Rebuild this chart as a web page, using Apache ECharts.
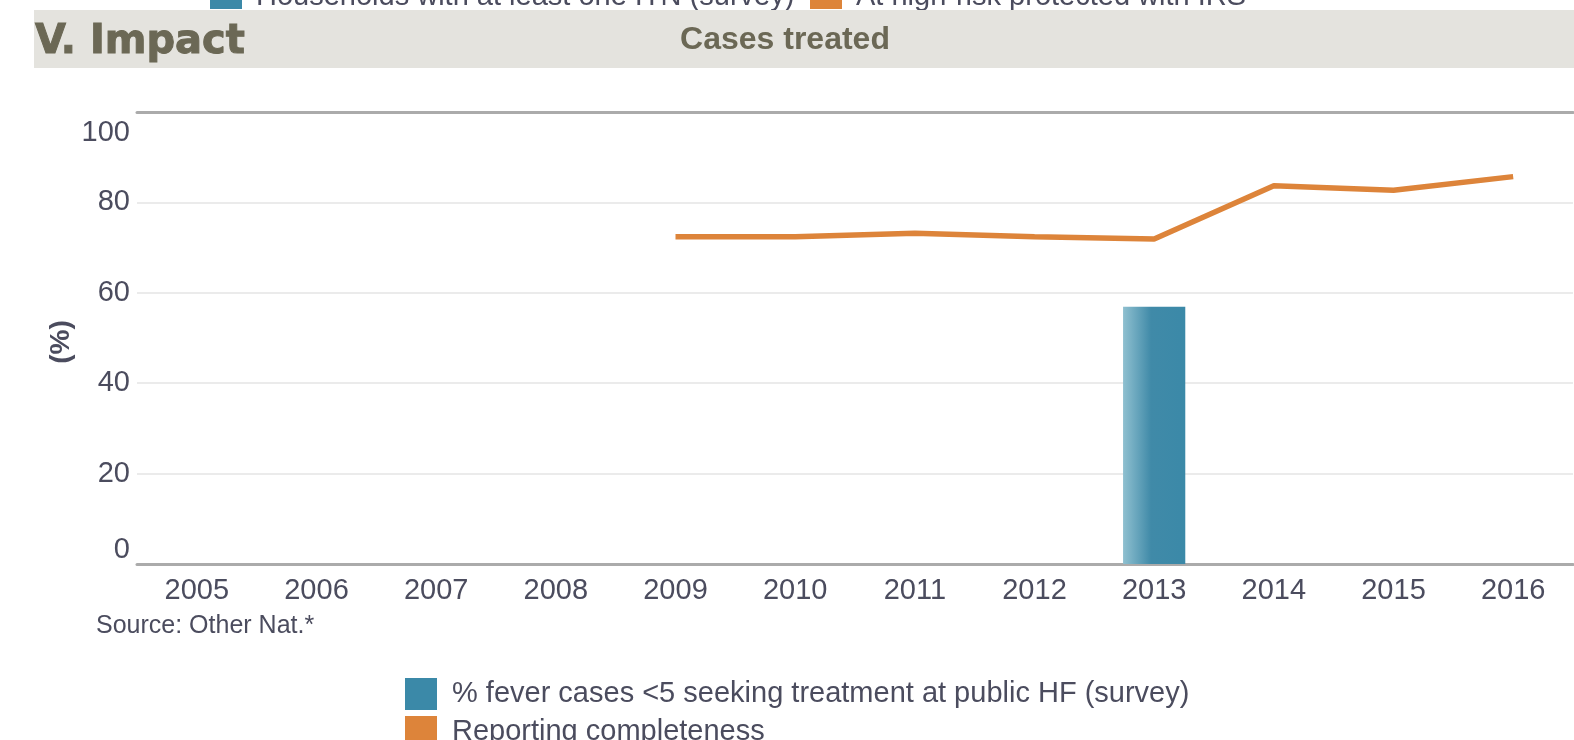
<!DOCTYPE html>
<html>
<head>
<meta charset="utf-8">
<script src="https://cdn.jsdelivr.net/npm/echarts@6/dist/echarts.min.js"></script>
<style>
html,body{margin:0;padding:0;background:#fff;}
#chart{width:1574px;height:740px;}
</style>
</head>
<body>
<div id="chart"></div>
<script>
// ---- data ----
var years = ['2005','2006','2007','2008','2009','2010','2011','2012','2013','2014','2015','2016'];
var feverSeekingHF = [null, null, null, null, null, null, null, null, 56.9, null, null, null];
var reportingCompleteness = [null, null, null, null, 72.4, 72.4, 73.2, 72.4, 71.9, 83.7, 82.7, 85.7];
var yTicks = [0, 20, 40, 60, 80, 100];
var barName = '% fever cases <5 seeking treatment at public HF (survey)';
var lineName = 'Reporting completeness';
var topLegendNames = ['Households with at least one ITN (survey)', 'At high-risk protected with IRS'];

var textColor = '#4b4c5e';
var headerColor = '#6b6855';
var blue = '#3b89a8';
var orange = '#dd843a';

var chart = echarts.init(document.getElementById('chart'), null, {renderer: 'canvas'});

var option = {
  animation: false,
  backgroundColor: '#ffffff',
  textStyle: {fontFamily: 'Liberation Sans, Arial, sans-serif'},
  grid: {left: 137, right: 1, top: 112, bottom: 176, containLabel: false},
  xAxis: [{
    type: 'category',
    data: years,
    position: 'bottom',
    axisLine: {show: true, lineStyle: {color: '#ababab', width: 3}},
    axisTick: {show: false},
    axisLabel: {color: textColor, fontSize: 29, margin: 12},
    splitLine: {show: false}
  }, {
    type: 'category',
    data: years,
    position: 'top',
    axisLine: {show: true, lineStyle: {color: '#ababab', width: 3}},
    axisTick: {show: false},
    axisLabel: {show: false},
    splitLine: {show: false}
  }],
  yAxis: {
    type: 'value',
    min: yTicks[0],
    max: yTicks[yTicks.length - 1],
    interval: yTicks[1] - yTicks[0],
    name: '(%)',
    nameLocation: 'middle',
    nameGap: 62,
    nameMoveOverlap: false,
    nameRotate: 90,
    nameTextStyle: {color: textColor, fontSize: 28, fontWeight: 'bold', padding: [0, 8, 0, 0]},
    axisLine: {show: false},
    axisTick: {show: false},
    axisLabel: {
      color: textColor, fontSize: 29, margin: 7,
      padding: [6, 0, 0, 0],
      verticalAlignMinLabel: 'bottom',
      verticalAlignMaxLabel: 'top'
    },
    splitLine: {show: true, lineStyle: {color: '#ebebeb', width: 2}}
  },
  legend: {
    orient: 'vertical',
    left: 405,
    top: 678,
    height: 120,
    padding: 0,
    itemWidth: 32,
    itemHeight: 32,
    itemGap: 6,
    icon: 'rect',
    textStyle: {color: textColor, fontSize: 29, padding: [0, 0, 0, 10]},
    data: [
      {name: barName, itemStyle: {color: blue}},
      {name: lineName, itemStyle: {color: orange}}
    ]
  },
  series: [{
    name: barName,
    type: 'bar',
    data: feverSeekingHF,
    barWidth: '52%',
    itemStyle: {
      color: new echarts.graphic.LinearGradient(0, 0, 1, 0, [
        {offset: 0, color: '#8fc0d0'},
        {offset: 0.45, color: '#408aa8'},
        {offset: 1, color: blue}
      ])
    }
  }, {
    name: lineName,
    type: 'line',
    data: reportingCompleteness,
    showSymbol: false,
    symbol: 'none',
    lineStyle: {color: orange, width: 5.5},
    itemStyle: {color: orange},
    z: 3
  }],
  graphic: [
    // partial legend of the chart above
    {type: 'rect', x: 210, y: -23, shape: {width: 32, height: 32}, style: {fill: blue}},
    {type: 'text', x: 256, y: -3, style: {text: topLegendNames[0], fill: textColor, font: '29px "Liberation Sans", Arial, sans-serif', verticalAlign: 'middle'}},
    {type: 'rect', x: 810, y: -23, shape: {width: 32, height: 32}, style: {fill: orange}},
    {type: 'text', x: 856, y: -3, style: {text: topLegendNames[1], fill: textColor, font: '29px "Liberation Sans", Arial, sans-serif', verticalAlign: 'middle'}},
    // header band
    {type: 'rect', x: 34, y: 10, shape: {width: 1540, height: 58}, style: {fill: '#e4e3de'}},
    {type: 'text', x: 35, y: 43, style: {text: 'V. Impact', fill: headerColor, stroke: headerColor, lineWidth: 1, font: 'bold 40px "DejaVu Sans", sans-serif', verticalAlign: 'middle'}},
    {type: 'text', x: 785, y: 40, style: {text: 'Cases treated', fill: headerColor, font: 'bold 32px "Liberation Sans", Arial, sans-serif', align: 'center', verticalAlign: 'middle'}},
    // source note
    {type: 'text', x: 96, y: 626, style: {text: 'Source: Other Nat.*', fill: textColor, font: '25px "Liberation Sans", Arial, sans-serif', verticalAlign: 'middle'}}
  ]
};
chart.setOption(option);
</script>
</body>
</html>
